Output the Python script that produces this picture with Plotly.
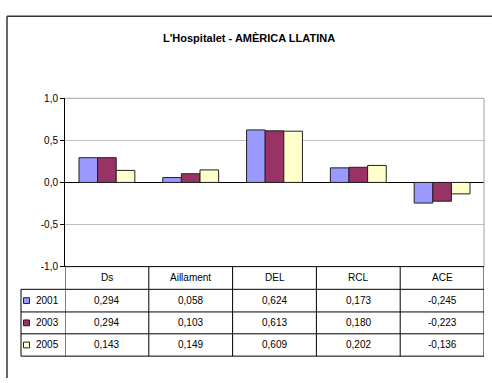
import plotly.graph_objects as go

# Indicator values per year for L'Hospitalet - América Llatina
categories = ["Ds", "Aillament", "DEL", "RCL", "ACE"]
years = ["2001", "2003", "2005"]
values_2001 = [0.294, 0.058, 0.624, 0.173, -0.245]
values_2003 = [0.294, 0.103, 0.613, 0.180, -0.223]
values_2005 = [0.143, 0.149, 0.609, 0.202, -0.136]
y_ticks = [-1.0, -0.5, 0.0, 0.5, 1.0]
y_tick_text = ["-1,0", "-0,5", "0,0", "0,5", "1,0"]

series = [values_2001, values_2003, values_2005]
colors = ["#9999FF", "#993366", "#FFFFCC"]

W, H = 492, 383
FONT = "Liberation Sans, Arial, sans-serif"

# pixel layout of the plot area and data table
PL, PR, PT, PB = 65, 484, 95, 268.3
row_edges = [268.3, 291.7, 315.0, 337.5, 360.5]
LEG_L = 21


def px(x):
    return x / W


def py(y):
    return 1 - y / H


def fmt(v):
    return f"{v:.3f}".replace(".", ",")


def label(x, y, text, xref="paper", size=10):
    return dict(x=x, xref=xref, y=y, yref="paper", text=text, showarrow=False,
                xanchor="center", yanchor="middle",
                font=dict(family=FONT, size=size, color="#000000"))


def pline(x0, y0, x1, y1, color="#000000", width=1):
    return dict(type="line", xref="paper", yref="paper",
                x0=px(x0), x1=px(x1), y0=py(y0), y1=py(y1),
                line=dict(color=color, width=width))


fig = go.Figure()
for name, vals, col in zip(years, series, colors):
    fig.add_trace(go.Bar(
        x=categories, y=vals, name=name,
        marker=dict(color=col, line=dict(color="#202020", width=1)),
        showlegend=False,
    ))

shapes = []
annotations = []

# outer chart border (top and left edges)
shapes.append(pline(7, 10.5, W, 10.5, color="#333333", width=1.5))
shapes.append(pline(7, 10.5, 7, H, color="#333333", width=1.5))

# plot area frame (top and right in grey)
shapes.append(pline(PL, PT, PR, PT, color="#A0A0A0"))
shapes.append(pline(PR, PT, PR, PB, color="#A0A0A0"))

# data table grid
shapes.append(pline(PL, row_edges[0], PR, row_edges[0]))
for yy in row_edges[1:]:
    shapes.append(pline(LEG_L, yy, PR, yy))
for i in range(len(categories) + 1):
    shapes.append(dict(type="line", xref="x", yref="paper",
                       x0=i - 0.5, x1=i - 0.5, y0=py(row_edges[0]), y1=py(row_edges[-1]),
                       line=dict(color="#000000", width=1)))
shapes.append(pline(LEG_L, row_edges[1], LEG_L, row_edges[-1]))

# header row: category names
for i, c in enumerate(categories):
    annotations.append(label(i, py((row_edges[0] + row_edges[1]) / 2), c, xref="x"))

# value rows with legend keys
for r, (name, vals, col) in enumerate(zip(years, series, colors)):
    yc = (row_edges[r + 1] + row_edges[r + 2]) / 2
    shapes.append(dict(type="rect", xref="paper", yref="paper",
                       x0=px(23.5), x1=px(29.5), y0=py(yc + 3), y1=py(yc - 3),
                       fillcolor=col, line=dict(color="#202020", width=1)))
    annotations.append(label(px(47), py(yc), name))
    for i, v in enumerate(vals):
        annotations.append(label(i, py(yc), fmt(v), xref="x"))

# title
annotations.append(label(px(249), py(33), "<b>L'Hospitalet - AMÈRICA LLATINA</b>", size=11))

fig.update_layout(
    width=W, height=H,
    margin=dict(l=0, r=0, t=0, b=0),
    paper_bgcolor="#FFFFFF", plot_bgcolor="#FFFFFF",
    barmode="group", bargap=1.5 / 4.5, bargroupgap=0,
    shapes=shapes, annotations=annotations,
    xaxis=dict(domain=[px(PL), px(PR)], range=[-0.5, 4.5],
               showticklabels=False, showgrid=False, zeroline=False,
               showline=False, ticks=""),
    yaxis=dict(domain=[py(PB), py(PT)], range=[-1, 1],
               tickvals=y_ticks, ticktext=y_tick_text,
               showgrid=True, gridcolor="#C0C0C0", gridwidth=1,
               zeroline=True, zerolinecolor="#000000", zerolinewidth=1,
               showline=True, linecolor="#000000", linewidth=1,
               ticks="outside", ticklen=4, tickcolor="#000000",
               tickfont=dict(family=FONT, size=10, color="#000000")),
    font=dict(family=FONT),
)

fig.write_html("out.html")
